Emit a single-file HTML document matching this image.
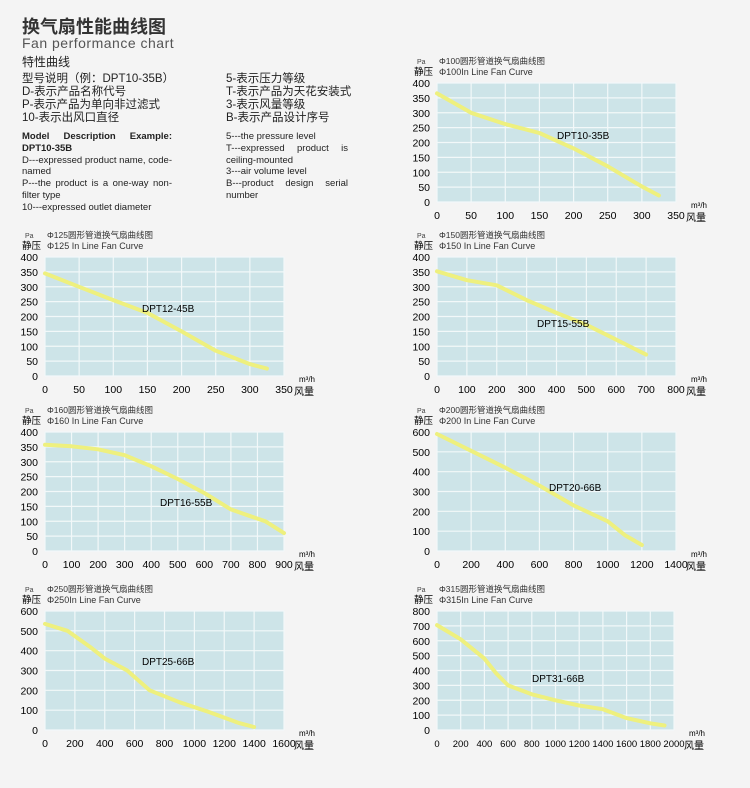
<!DOCTYPE html>
<html><head><meta charset="utf-8"><style>
body{margin:0;width:750px;height:788px;background:#f4f4f4;overflow:hidden;font-family:"Liberation Sans","Noto Sans CJK SC",sans-serif;color:#222}
.t{position:absolute;white-space:nowrap}
</style></head><body>
<div class="t" style="left:22px;top:13px;font-size:18px;font-weight:bold;color:#333">换气扇性能曲线图</div>
<div class="t" style="left:22px;top:35px;font-size:14px;color:#555;letter-spacing:0.5px">Fan performance chart</div>
<div class="t" style="left:22px;top:56px;font-size:12px;line-height:13px">特性曲线</div>
<div class="t" style="left:22px;top:73px;font-size:11.5px;line-height:13px">型号说明（例：DPT10-35B）<br>D-表示产品名称代号<br>P-表示产品为单向非过滤式<br>10-表示出风口直径</div>
<div class="t" style="left:226px;top:73px;font-size:11.5px;line-height:13px">5-表示压力等级<br>T-表示产品为天花安装式<br>3-表示风量等级<br>B-表示产品设计序号</div>
<div class="t" style="left:22px;top:131px;font-size:9.5px;line-height:11.8px;width:150px;white-space:normal;text-align:justify"><b>Model Description Example: DPT10-35B</b><br>D---expressed product name, code-named<br>P---the product is a one-way non-filter type<br>10---expressed outlet diameter</div>
<div class="t" style="left:226px;top:131px;font-size:9.5px;line-height:11.8px;width:122px;white-space:normal;text-align:justify">5---the pressure level<br>T---expressed product is ceiling-mounted<br>3---air volume level<br>B---product design serial number</div>
<svg id="s" width="750" height="788" style="position:absolute;left:0;top:0"></svg>
<script>
var C=[
{x:437,y:83,w:239,h:119,xm:350,xs:50,ym:400,ys:50,t:"Φ100圆形管道换气扇曲线图",t2:"Φ100In Line Fan Curve",n:"DPT10-35B",nx:557,ny:139,p:[[0,365],[50,300],[100,262],[150,232],[200,180],[250,120],[300,52],[325,22]]},
{x:45,y:257,w:239,h:119,xm:350,xs:50,ym:400,ys:50,t:"Φ125圆形管道换气扇曲线图",t2:"Φ125 In Line Fan Curve",n:"DPT12-45B",nx:142,ny:312,p:[[0,345],[50,300],[100,255],[150,212],[200,150],[250,85],[300,40],[325,25]]},
{x:437,y:257,w:239,h:119,xm:800,xs:100,ym:400,ys:50,t:"Φ150圆形管道换气扇曲线图",t2:"Φ150 In Line Fan Curve",n:"DPT15-55B",nx:537,ny:327,p:[[0,352],[100,322],[200,305],[300,255],[400,212],[500,172],[600,122],[700,72]]},
{x:45,y:432,w:239,h:119,xm:900,xs:100,ym:400,ys:50,t:"Φ160圆形管道换气扇曲线图",t2:"Φ160 In Line Fan Curve",n:"DPT16-55B",nx:160,ny:506,p:[[0,357],[100,352],[200,342],[300,322],[400,285],[500,242],[600,195],[700,140],[780,115],[830,100],[900,60]]},
{x:437,y:432,w:239,h:119,xm:1400,xs:200,ym:600,ys:100,t:"Φ200圆形管道换气扇曲线图",t2:"Φ200 In Line Fan Curve",n:"DPT20-66B",nx:549,ny:491,p:[[0,590],[200,505],[400,420],[600,330],[800,230],[1000,150],[1100,80],[1200,30]]},
{x:45,y:611,w:239,h:119,xm:1600,xs:200,ym:600,ys:100,t:"Φ250圆形管道换气扇曲线图",t2:"Φ250In Line Fan Curve",n:"DPT25-66B",nx:142,ny:665,p:[[0,535],[150,500],[300,420],[400,360],[550,300],[700,200],[900,140],[1100,90],[1300,35],[1400,15]]},
{x:437,y:611,w:237,h:119,xm:2000,xs:200,ym:800,ys:100,t:"Φ315圆形管道换气扇曲线图",t2:"Φ315In Line Fan Curve",n:"DPT31-66B",nx:532,ny:682,p:[[0,705],[200,610],[400,480],[500,380],[600,300],[800,240],[1000,200],[1200,165],[1400,140],[1600,80],[1800,45],[1920,30]]}
];
var h="";
C.forEach(function(c){
 function X(v){return c.x+v/c.xm*c.w}function Y(v){return c.y+c.h-v/c.ym*c.h}
 h+='<rect x="'+c.x+'" y="'+c.y+'" width="'+c.w+'" height="'+c.h+'" fill="#cde4e8"/>';
 var fs=c.xm>=2000?9.5:10.5;
 for(var v=0;v<=c.xm;v+=c.xs){h+='<line x1="'+X(v)+'" x2="'+X(v)+'" y1="'+c.y+'" y2="'+(c.y+c.h)+'" stroke="#f2f8f9" stroke-width="1.2"/>';
  h+='<text x="'+X(v)+'" y="'+(c.y+c.h+17)+'" font-size="'+fs+'" text-anchor="middle">'+v+'</text>';}
 for(var v=0;v<=c.ym;v+=c.ys){h+='<line x1="'+c.x+'" x2="'+(c.x+c.w)+'" y1="'+Y(v)+'" y2="'+Y(v)+'" stroke="#f2f8f9" stroke-width="1.2"/>';
  h+='<text x="'+(c.x-7)+'" y="'+(Y(v)+4)+'" font-size="10.5" text-anchor="end">'+v+'</text>';}
 var d="";c.p.forEach(function(q,i){d+=(i?"L":"M")+X(q[0]).toFixed(1)+","+Y(q[1]).toFixed(1)});
 h+='<path d="'+d+'" fill="none" stroke="#eef07e" stroke-width="4" stroke-linecap="round" stroke-linejoin="round"/>';
 h+='<text x="'+c.nx+'" y="'+c.ny+'" font-size="10">'+c.n+'</text>';
 h+='<text x="'+(c.x-20)+'" y="'+(c.y-19)+'" font-size="7" fill="#444">Pa</text>';
 h+='<text x="'+(c.x-23)+'" y="'+(c.y-8)+'" font-size="9.5">静压</text>';
 h+='<text x="'+(c.x+2)+'" y="'+(c.y-19)+'" font-size="8.5" fill="#333">'+c.t+'</text>';
 h+='<text x="'+(c.x+2)+'" y="'+(c.y-8)+'" font-size="9" fill="#333">'+c.t2+'</text>';
 h+='<text x="'+(c.x+c.w+15)+'" y="'+(c.y+c.h+6)+'" font-size="8">m³/h</text>';
 h+='<text x="'+(c.x+c.w+10)+'" y="'+(c.y+c.h+19)+'" font-size="10">风量</text>';
});
document.getElementById("s").innerHTML=h;
</script>
</body></html>
